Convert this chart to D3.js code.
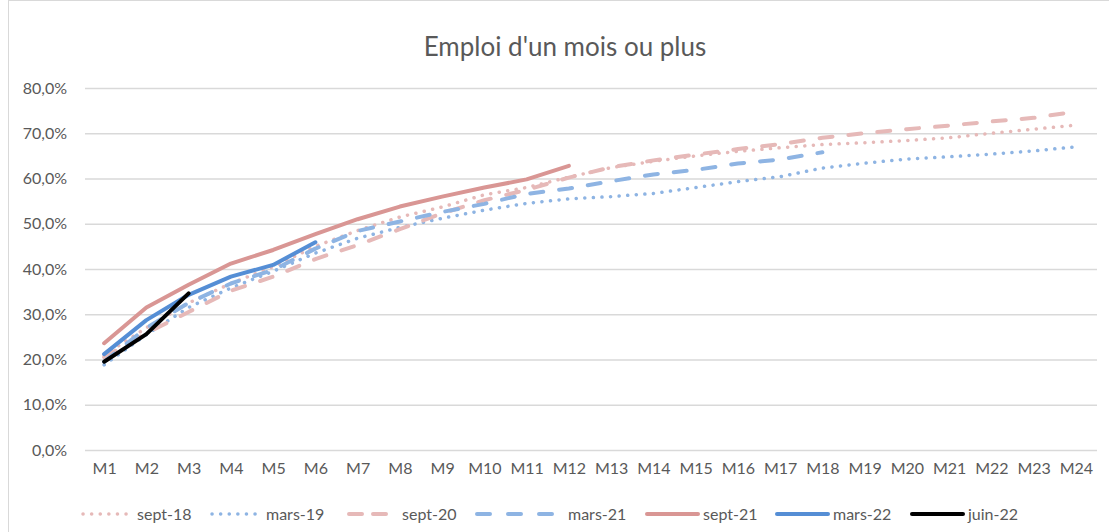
<!DOCTYPE html>
<html>
<head>
<meta charset="utf-8">
<script src="https://cdn.jsdelivr.net/npm/d3@7"></script>
<style>
  body { margin: 0; background: #fff; }
  svg { display: block; font-family: Lato, "Open Sans", sans-serif; }
</style>
</head>
<body>
<svg id="chart_svg" width="1109" height="532"></svg>
<script>
// month labels on the x axis
var months = ["M1","M2","M3","M4","M5","M6","M7","M8","M9","M10","M11","M12",
  "M13","M14","M15","M16","M17","M18","M19","M20","M21","M22","M23","M24"];
var yTicks = [0, 0.1, 0.2, 0.3, 0.4, 0.5, 0.6, 0.7, 0.8];

// values in %
var sept18 = [21.0, 27.0, 32.5, 36.8, 40.5, 45.0, 48.5, 51.5, 53.7, 56.4, 58.0, 60.3,
  62.4, 63.8, 65.0, 66.0, 66.8, 67.5, 67.9, 68.4, 69.0, 70.0, 70.9, 71.8];
var mars19 = [18.8, 25.5, 31.5, 35.8, 39.5, 43.5, 46.8, 49.2, 51.2, 53.0, 54.5, 55.5,
  56.0, 56.7, 58.0, 59.3, 60.4, 62.3, 63.4, 64.3, 64.8, 65.4, 66.1, 67.0];
var sept20 = [20.5, 25.8, 30.5, 35.2, 38.3, 42.2, 45.3, 48.8, 52.3, 55.2, 57.5, 60.2,
  62.5, 64.0, 65.3, 66.5, 67.6, 69.0, 70.0, 70.9, 71.7, 72.6, 73.4, 74.8];
var mars21 = [19.5, 27.0, 32.5, 36.8, 39.8, 44.5, 48.4, 50.5, 52.6, 54.4, 56.6, 57.8,
  59.4, 60.9, 61.9, 63.3, 64.2, 65.8];
var sept21 = [23.6, 31.5, 36.5, 41.2, 44.2, 47.7, 51.0, 53.8, 56.0, 58.0, 59.8, 62.8];
var mars22 = [21.2, 28.7, 34.3, 38.3, 40.9, 45.9];
var juin22 = [19.5, 25.6, 34.6];

var seriesNames = ["sept-18", "mars-19", "sept-20", "mars-21", "sept-21", "mars-22", "juin-22"];
var seriesValues = [sept18, mars19, sept20, mars21, sept21, mars22, juin22];

// styles per series
var styles = {
  "sept-18": {color: "#e6b9b8", dash: "0.1,8.5", width: 3.5},
  "mars-19": {color: "#8eb4e3", dash: "0.1,8.5", width: 3.5},
  "sept-20": {color: "#e6b9b8", dash: "13,16", width: 4},
  "mars-21": {color: "#8eb4e3", dash: "13,16", width: 4},
  "sept-21": {color: "#d99694", dash: null, width: 4},
  "mars-22": {color: "#558ed5", dash: null, width: 4},
  "juin-22": {color: "#000000", dash: null, width: 4}
};

var svg = d3.select("#chart_svg");

// chart frame
svg.append("rect")
  .attr("x", 8.5).attr("y", 0.5)
  .attr("width", 1110).attr("height", 545)
  .attr("fill", "none")
  .attr("stroke", "#d9d9d9");

var xScale = d3.scalePoint()
  .domain(months)
  .range([83, 1097])
  .padding(0.5);

var yScale = d3.scaleLinear()
  .domain([0, 0.8])
  .range([450, 88]);

// title
svg.append("text")
  .attr("x", 565).attr("y", 56)
  .attr("text-anchor", "middle")
  .attr("font-size", 26)
  .attr("fill", "#595959")
  .text("Emploi d'un mois ou plus");

// y axis + gridlines
var yAxis = d3.axisLeft(yScale)
  .tickValues(yTicks)
  .tickSize(-(1097 - 85))
  .tickPadding(18)
  .tickFormat(function (d) { return d3.format(".1f")(d * 100).replace(".", ",") + "%"; });

var gy = svg.append("g")
  .attr("transform", "translate(85,0)")
  .call(yAxis);
gy.select(".domain").remove();
gy.selectAll("line").attr("stroke", "#d9d9d9").attr("stroke-width", 1.3);
gy.selectAll("text").attr("font-size", 16).attr("fill", "#595959")
  .attr("font-family", "Lato, 'Open Sans', sans-serif");

// x axis labels
var xAxis = d3.axisBottom(xScale).tickSize(0).tickPadding(13);
var gx = svg.append("g")
  .attr("transform", "translate(0,450)")
  .call(xAxis);
gx.select(".domain").remove();
gx.selectAll("text").attr("font-size", 16).attr("fill", "#595959")
  .attr("font-family", "Lato, 'Open Sans', sans-serif");

var line = d3.line()
  .x(function (d, i) { return xScale(months[i]); })
  .y(function (d) { return yScale(d / 100); });

for (let i = 0; i < seriesNames.length; i++) {
  var st = styles[seriesNames[i]];
  svg.append("path")
    .datum(seriesValues[i])
    .attr("d", line)
    .attr("fill", "none")
    .attr("stroke", st.color)
    .attr("stroke-width", st.width)
    .attr("stroke-linecap", "round")
    .attr("stroke-linejoin", "round")
    .attr("stroke-dasharray", st.dash);
}

// legend
var legendX1 = [83, 212, 349, 477, 647, 777, 912];
var legendX2 = [134, 263, 386, 552, 698, 828, 963];
var legendDash = ["0.1,8.5", "0.1,8.5", "13,11", "13,18", null, null, null];
var legendTextX = [137, 266, 402, 568, 703, 833, 968];
var legendY = 514;
for (let i = 0; i < seriesNames.length; i++) {
  var st = styles[seriesNames[i]];
  svg.append("line")
    .attr("x1", legendX1[i]).attr("x2", legendX2[i])
    .attr("y1", legendY).attr("y2", legendY)
    .attr("stroke", st.color)
    .attr("stroke-width", st.width)
    .attr("stroke-linecap", "round")
    .attr("stroke-dasharray", legendDash[i]);
  svg.append("text")
    .attr("x", legendTextX[i]).attr("y", legendY + 6)
    .attr("font-size", 16)
    .attr("fill", "#595959")
    .text(seriesNames[i]);
}
</script>
</body>
</html>
